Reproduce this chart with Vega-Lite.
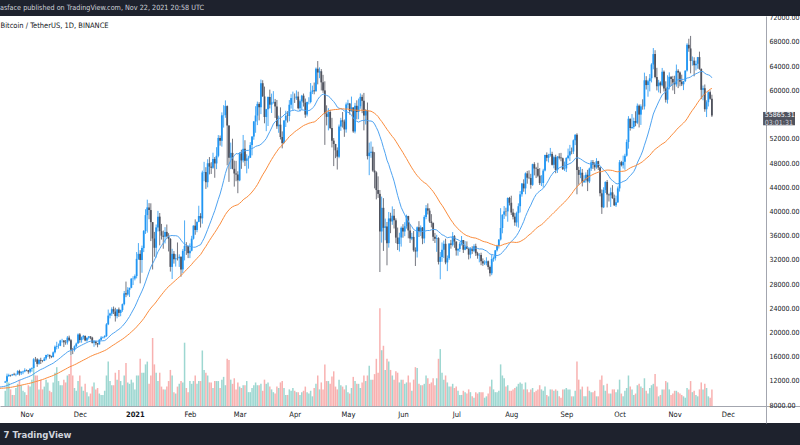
{
"$schema":"https://vega.github.io/schema/vega-lite/v6.json",
"width":800,"height":407,
"autosize":{"type":"none"},
"padding":{"left":0,"right":0,"top":16,"bottom":22},
"background":"#1e222d",
"config":{"view":{"fill":"#ffffff","stroke":null},"font":"Liberation Sans Narrow, DejaVu Sans Condensed, sans-serif","axis":{"labelOverlap":false,"labelFlush":false}},
"title":{"text":"asface published on TradingView.com, Nov 22, 2021 20:58 UTC","anchor":"start","orient":"top","offset":4,"dy":5,"fontSize":7.2,"fontWeight":"normal","color":"#d1d4dc","baseline":"middle"},
"data":{"values":[
{"t":"2020-09-01","c":11920},{"t":"2020-09-02","c":11390},{"t":"2020-09-03","c":10170},{"t":"2020-09-04","c":10470},{"t":"2020-09-05","c":10170},{"t":"2020-09-06","c":10250},{"t":"2020-09-07","c":10370},{"t":"2020-09-08","c":10130},{"t":"2020-09-09","c":10230},{"t":"2020-09-10","c":10340},
{"t":"2020-09-11","c":10390},{"t":"2020-09-12","c":10440},{"t":"2020-09-13","c":10330},{"t":"2020-09-14","c":10680},{"t":"2020-09-15","c":10790},{"t":"2020-09-16","c":10950},{"t":"2020-09-17","c":10940},{"t":"2020-09-18","c":10930},{"t":"2020-09-19","c":11080},{"t":"2020-09-20","c":10920},
{"t":"2020-09-21","c":10420},{"t":"2020-09-22","c":10530},{"t":"2020-09-23","c":10240},{"t":"2020-09-24","c":10740},{"t":"2020-09-25","c":10690},{"t":"2020-09-26","c":10730},{"t":"2020-09-27","c":10770},{"t":"2020-09-28","c":10700},{"t":"2020-09-29","c":10840},{"t":"2020-09-30","c":10780},
{"t":"2020-10-01","c":10620},{"t":"2020-10-02","c":10570},{"t":"2020-10-03","c":10550},{"t":"2020-10-04","c":10670},{"t":"2020-10-05","c":10790},{"t":"2020-10-06","c":10600},{"t":"2020-10-07","c":10670},{"t":"2020-10-08","c":10920},{"t":"2020-10-09","c":11050},{"t":"2020-10-10","c":11300},
{"t":"2020-10-11","c":11380},{"t":"2020-10-12","c":11540},{"t":"2020-10-13","c":11430},{"t":"2020-10-14","c":11430},{"t":"2020-10-15","c":11500},{"t":"2020-10-16","c":11320},{"t":"2020-10-17","c":11370},{"t":"2020-10-18","c":11500},{"t":"2020-10-19","c":11750},
{"t":"2020-10-20","o":11750,"h":12030,"l":11680,"c":11910,"v":55},
{"t":"2020-10-21","o":11910,"h":13220,"l":11900,"c":12800,"v":110},
{"t":"2020-10-22","o":12800,"h":13200,"l":12690,"c":12980,"v":85},
{"t":"2020-10-23","o":12980,"h":13030,"l":12730,"c":12930,"v":60},
{"t":"2020-10-24","o":12930,"h":13170,"l":12880,"c":13110,"v":40},
{"t":"2020-10-25","o":13110,"h":13350,"l":12920,"c":13030,"v":40},
{"t":"2020-10-26","o":13030,"h":13240,"l":12780,"c":13070,"v":65},
{"t":"2020-10-27","o":13070,"h":13790,"l":13050,"c":13640,"v":80},
{"t":"2020-10-28","o":13640,"h":13860,"l":12900,"c":13280,"v":95},
{"t":"2020-10-29","o":13280,"h":13640,"l":12990,"c":13460,"v":75},
{"t":"2020-10-30","o":13460,"h":13700,"l":13120,"c":13560,"v":55},
{"t":"2020-10-31","o":13560,"h":14100,"l":13430,"c":13800,"v":50},
{"t":"2020-11-01","o":13800,"h":13900,"l":13620,"c":13760,"v":40},
{"t":"2020-11-02","o":13760,"h":13820,"l":13200,"c":13550,"v":75},
{"t":"2020-11-03","o":13550,"h":14070,"l":13290,"c":14030,"v":70},
{"t":"2020-11-04","o":14030,"h":14250,"l":13530,"c":14150,"v":95},
{"t":"2020-11-05","o":14150,"h":15770,"l":14100,"c":15590,"v":150},
{"t":"2020-11-06","o":15590,"h":15970,"l":15170,"c":15580,"v":110},
{"t":"2020-11-07","o":15580,"h":15770,"l":14340,"c":14830,"v":110},
{"t":"2020-11-08","o":14830,"h":15650,"l":14700,"c":15480,"v":60},
{"t":"2020-11-09","o":15480,"h":15840,"l":14810,"c":15330,"v":95},
{"t":"2020-11-10","o":15330,"h":15460,"l":15090,"c":15300,"v":60},
{"t":"2020-11-11","o":15300,"h":15960,"l":15280,"c":15700,"v":70},
{"t":"2020-11-12","o":15700,"h":16340,"l":15440,"c":16280,"v":95},
{"t":"2020-11-13","o":16280,"h":16480,"l":15950,"c":16320,"v":85},
{"t":"2020-11-14","o":16320,"h":16330,"l":15680,"c":16070,"v":55},
{"t":"2020-11-15","o":16070,"h":16180,"l":15780,"c":15960,"v":50},
{"t":"2020-11-16","o":15960,"h":16880,"l":15870,"c":16730,"v":85},
{"t":"2020-11-17","o":16730,"h":17860,"l":16560,"c":17660,"v":120},
{"t":"2020-11-18","o":17660,"h":18480,"l":17220,"c":17780,"v":140},
{"t":"2020-11-19","o":17780,"h":18190,"l":17340,"c":17820,"v":90},
{"t":"2020-11-20","o":17820,"h":18800,"l":17750,"c":18680,"v":75},
{"t":"2020-11-21","o":18680,"h":18970,"l":18360,"c":18700,"v":75},
{"t":"2020-11-22","o":18700,"h":18750,"l":17610,"c":18420,"v":95},
{"t":"2020-11-23","o":18420,"h":18770,"l":18000,"c":18370,"v":85},
{"t":"2020-11-24","o":18370,"h":19420,"l":18020,"c":19160,"v":110},
{"t":"2020-11-25","o":19160,"h":19490,"l":18560,"c":18720,"v":115},
{"t":"2020-11-26","o":18720,"h":18920,"l":16200,"c":17150,"v":180},
{"t":"2020-11-27","o":17150,"h":17460,"l":16440,"c":17140,"v":110},
{"t":"2020-11-28","o":17140,"h":17880,"l":16880,"c":17720,"v":65},
{"t":"2020-11-29","o":17720,"h":18350,"l":17520,"c":18180,"v":55},
{"t":"2020-11-30","o":18180,"h":19860,"l":18180,"c":19700,"v":90},
{"t":"2020-12-01","o":19700,"h":19920,"l":18320,"c":18760,"v":110},
{"t":"2020-12-02","o":18760,"h":19340,"l":18330,"c":19220,"v":70},
{"t":"2020-12-03","o":19220,"h":19600,"l":18870,"c":19450,"v":55},
{"t":"2020-12-04","o":19450,"h":19510,"l":18570,"c":18700,"v":80},
{"t":"2020-12-05","o":18700,"h":19180,"l":18500,"c":19150,"v":50},
{"t":"2020-12-06","o":19150,"h":19420,"l":18860,"c":19360,"v":35},
{"t":"2020-12-07","o":19360,"h":19390,"l":18900,"c":19170,"v":45},
{"t":"2020-12-08","o":19170,"h":19300,"l":18200,"c":18320,"v":70},
{"t":"2020-12-09","o":18320,"h":18640,"l":17650,"c":18550,"v":85},
{"t":"2020-12-10","o":18550,"h":18560,"l":17910,"c":18250,"v":60},
{"t":"2020-12-11","o":18250,"h":18290,"l":17570,"c":18040,"v":65},
{"t":"2020-12-12","o":18040,"h":18950,"l":18020,"c":18800,"v":45},
{"t":"2020-12-13","o":18800,"h":19410,"l":18730,"c":19170,"v":40},
{"t":"2020-12-14","o":19170,"h":19350,"l":19000,"c":19270,"v":40},
{"t":"2020-12-15","o":19270,"h":19570,"l":19050,"c":19430,"v":55},
{"t":"2020-12-16","o":19430,"h":21560,"l":19280,"c":21360,"v":110},
{"t":"2020-12-17","o":21360,"h":23800,"l":21230,"c":22800,"v":160},
{"t":"2020-12-18","o":22800,"h":23280,"l":22350,"c":23130,"v":90},
{"t":"2020-12-19","o":23130,"h":24170,"l":22750,"c":23860,"v":75},
{"t":"2020-12-20","o":23860,"h":24300,"l":23060,"c":23470,"v":75},
{"t":"2020-12-21","o":23470,"h":24100,"l":21820,"c":22720,"v":120},
{"t":"2020-12-22","o":22720,"h":23840,"l":22350,"c":23820,"v":95},
{"t":"2020-12-23","o":23820,"h":24140,"l":22600,"c":23250,"v":130},
{"t":"2020-12-24","o":23250,"h":23790,"l":22700,"c":23720,"v":90},
{"t":"2020-12-25","o":23720,"h":24790,"l":23430,"c":24690,"v":75},
{"t":"2020-12-26","o":24690,"h":26870,"l":24500,"c":26490,"v":110},
{"t":"2020-12-27","o":26490,"h":28420,"l":25850,"c":26280,"v":155},
{"t":"2020-12-28","o":26280,"h":27500,"l":26100,"c":27080,"v":85},
{"t":"2020-12-29","o":27080,"h":27410,"l":25880,"c":27390,"v":80},
{"t":"2020-12-30","o":27390,"h":28990,"l":27320,"c":28900,"v":95},
{"t":"2020-12-31","o":28900,"h":29300,"l":27850,"c":28920,"v":85},
{"t":"2021-01-01","o":28920,"h":29600,"l":28620,"c":29330,"v":60},
{"t":"2021-01-02","o":29330,"h":33300,"l":28950,"c":32180,"v":110},
{"t":"2021-01-03","o":32180,"h":34780,"l":32000,"c":33000,"v":110},
{"t":"2021-01-04","o":33000,"h":33600,"l":28130,"c":31990,"v":170},
{"t":"2021-01-05","o":31990,"h":34360,"l":29880,"c":33950,"v":120},
{"t":"2021-01-06","o":33950,"h":36940,"l":33290,"c":36770,"v":120},
{"t":"2021-01-07","o":36770,"h":40370,"l":36300,"c":39400,"v":150},
{"t":"2021-01-08","o":39400,"h":41950,"l":36500,"c":40670,"v":160},
{"t":"2021-01-09","o":40670,"h":41380,"l":38720,"c":40240,"v":80},
{"t":"2021-01-10","o":40240,"h":41350,"l":35110,"c":38240,"v":110},
{"t":"2021-01-11","o":38240,"h":38260,"l":30420,"c":35540,"v":245},
{"t":"2021-01-12","o":35540,"h":36630,"l":32530,"c":34010,"v":150},
{"t":"2021-01-13","o":34010,"h":37850,"l":32380,"c":37370,"v":120},
{"t":"2021-01-14","o":37370,"h":40100,"l":36700,"c":39150,"v":90},
{"t":"2021-01-15","o":39150,"h":39750,"l":34410,"c":36740,"v":120},
{"t":"2021-01-16","o":36740,"h":37950,"l":35360,"c":36010,"v":70},
{"t":"2021-01-17","o":36010,"h":36850,"l":33850,"c":35830,"v":60},
{"t":"2021-01-18","o":35830,"h":37410,"l":34720,"c":36630,"v":60},
{"t":"2021-01-19","o":36630,"h":37850,"l":35700,"c":35890,"v":70},
{"t":"2021-01-20","o":35890,"h":36420,"l":33400,"c":35470,"v":90},
{"t":"2021-01-21","o":35470,"h":35600,"l":30070,"c":30850,"v":130},
{"t":"2021-01-22","o":30850,"h":33830,"l":28850,"c":33000,"v":110},
{"t":"2021-01-23","o":33000,"h":33460,"l":31390,"c":32100,"v":50},
{"t":"2021-01-24","o":32100,"h":32950,"l":30900,"c":32280,"v":45},
{"t":"2021-01-25","o":32280,"h":34880,"l":31910,"c":32270,"v":70},
{"t":"2021-01-26","o":32270,"h":32920,"l":30840,"c":32520,"v":80},
{"t":"2021-01-27","o":32520,"h":32560,"l":29240,"c":30430,"v":90},
{"t":"2021-01-28","o":30430,"h":33780,"l":29840,"c":33470,"v":85},
{"t":"2021-01-29","o":33470,"h":38530,"l":31920,"c":34320,"v":228},
{"t":"2021-01-30","o":34320,"h":34930,"l":32830,"c":34280,"v":65},
{"t":"2021-01-31","o":34280,"h":34330,"l":32300,"c":33110,"v":50},
{"t":"2021-02-01","o":33110,"h":34720,"l":32300,"c":33520,"v":90},
{"t":"2021-02-02","o":33520,"h":35980,"l":33420,"c":35510,"v":80},
{"t":"2021-02-03","o":35510,"h":37700,"l":35360,"c":37660,"v":90},
{"t":"2021-02-04","o":37660,"h":38700,"l":36160,"c":36950,"v":110},
{"t":"2021-02-05","o":36950,"h":38310,"l":36570,"c":38290,"v":80},
{"t":"2021-02-06","o":38290,"h":40950,"l":38220,"c":39260,"v":90},
{"t":"2021-02-07","o":39260,"h":39720,"l":37350,"c":38870,"v":90},
{"t":"2021-02-08","o":38870,"h":46750,"l":37990,"c":46450,"v":200},
{"t":"2021-02-09","o":46450,"h":48200,"l":45000,"c":46510,"v":130},
{"t":"2021-02-10","o":46510,"h":47310,"l":43730,"c":44840,"v":120},
{"t":"2021-02-11","o":44840,"h":48630,"l":43980,"c":47970,"v":110},
{"t":"2021-02-12","o":47970,"h":48990,"l":46130,"c":47410,"v":85},
{"t":"2021-02-13","o":47410,"h":48150,"l":46200,"c":47230,"v":85},
{"t":"2021-02-14","o":47230,"h":49710,"l":47050,"c":48690,"v":65},
{"t":"2021-02-15","o":48690,"h":49000,"l":45570,"c":47940,"v":90},
{"t":"2021-02-16","o":47940,"h":50620,"l":47000,"c":49200,"v":90},
{"t":"2021-02-17","o":49200,"h":52620,"l":48950,"c":52150,"v":90},
{"t":"2021-02-18","o":52150,"h":52550,"l":50880,"c":51680,"v":65},
{"t":"2021-02-19","o":51680,"h":56370,"l":50710,"c":55890,"v":95},
{"t":"2021-02-20","o":55890,"h":57560,"l":53860,"c":55920,"v":105},
{"t":"2021-02-21","o":55920,"h":58350,"l":55480,"c":57410,"v":75},
{"t":"2021-02-22","o":57410,"h":57530,"l":47620,"c":54200,"v":170},
{"t":"2021-02-23","o":54200,"h":54210,"l":44890,"c":48890,"v":166},
{"t":"2021-02-24","o":48890,"h":51380,"l":47000,"c":49680,"v":95},
{"t":"2021-02-25","o":49680,"h":52020,"l":46970,"c":47050,"v":80},
{"t":"2021-02-26","o":47050,"h":48400,"l":44110,"c":46280,"v":100},
{"t":"2021-02-27","o":46280,"h":48360,"l":45000,"c":46110,"v":60},
{"t":"2021-02-28","o":46110,"h":46640,"l":43020,"c":45140,"v":85},
{"t":"2021-03-01","o":45140,"h":49790,"l":45000,"c":49590,"v":70},
{"t":"2021-03-02","o":49590,"h":50200,"l":47050,"c":48440,"v":65},
{"t":"2021-03-03","o":48440,"h":52640,"l":48100,"c":50350,"v":75},
{"t":"2021-03-04","o":50350,"h":51770,"l":47500,"c":48370,"v":75},
{"t":"2021-03-05","o":48370,"h":49450,"l":46300,"c":48760,"v":90},
{"t":"2021-03-06","o":48760,"h":49200,"l":47070,"c":48880,"v":50},
{"t":"2021-03-07","o":48880,"h":51450,"l":48850,"c":50970,"v":50},
{"t":"2021-03-08","o":50970,"h":52420,"l":49270,"c":52380,"v":65},
{"t":"2021-03-09","o":52380,"h":54930,"l":51850,"c":54880,"v":75},
{"t":"2021-03-10","o":54880,"h":57390,"l":53000,"c":55850,"v":85},
{"t":"2021-03-11","o":55850,"h":58150,"l":54270,"c":57770,"v":75},
{"t":"2021-03-12","o":57770,"h":58060,"l":55050,"c":57220,"v":75},
{"t":"2021-03-13","o":57220,"h":61790,"l":56080,"c":61190,"v":80},
{"t":"2021-03-14","o":61190,"h":61680,"l":58960,"c":59000,"v":55},
{"t":"2021-03-15","o":59000,"h":60630,"l":54570,"c":55600,"v":95},
{"t":"2021-03-16","o":55600,"h":56950,"l":53270,"c":56900,"v":80},
{"t":"2021-03-17","o":56900,"h":59000,"l":54120,"c":58910,"v":85},
{"t":"2021-03-18","o":58910,"h":60130,"l":57020,"c":57650,"v":70},
{"t":"2021-03-19","o":57650,"h":59470,"l":56270,"c":58030,"v":60},
{"t":"2021-03-20","o":58030,"h":59880,"l":57820,"c":58100,"v":50},
{"t":"2021-03-21","o":58100,"h":58590,"l":55450,"c":57350,"v":45},
{"t":"2021-03-22","o":57350,"h":58420,"l":53650,"c":54080,"v":70},
{"t":"2021-03-23","o":54080,"h":55830,"l":53000,"c":54340,"v":65},
{"t":"2021-03-24","o":54340,"h":57200,"l":51900,"c":52300,"v":85},
{"t":"2021-03-25","o":52300,"h":53230,"l":50430,"c":51300,"v":90},
{"t":"2021-03-26","o":51300,"h":55100,"l":51230,"c":55030,"v":65},
{"t":"2021-03-27","o":55030,"h":56640,"l":53960,"c":55820,"v":40},
{"t":"2021-03-28","o":55820,"h":56560,"l":54690,"c":55780,"v":40},
{"t":"2021-03-29","o":55780,"h":58400,"l":54900,"c":57630,"v":60},
{"t":"2021-03-30","o":57630,"h":59370,"l":57000,"c":58730,"v":55},
{"t":"2021-03-31","o":58730,"h":59800,"l":56770,"c":58740,"v":65},
{"t":"2021-04-01","o":58740,"h":59490,"l":57930,"c":58720,"v":55},
{"t":"2021-04-02","o":58720,"h":60000,"l":58430,"c":58990,"v":50},
{"t":"2021-04-03","o":58990,"h":59790,"l":56880,"c":57060,"v":50},
{"t":"2021-04-04","o":57060,"h":58500,"l":56500,"c":58200,"v":40},
{"t":"2021-04-05","o":58200,"h":59260,"l":56790,"c":59130,"v":50},
{"t":"2021-04-06","o":59130,"h":59480,"l":57330,"c":57990,"v":55},
{"t":"2021-04-07","o":57990,"h":58650,"l":55470,"c":56000,"v":70},
{"t":"2021-04-08","o":56000,"h":58150,"l":55700,"c":58090,"v":50},
{"t":"2021-04-09","o":58090,"h":58870,"l":57700,"c":58090,"v":45},
{"t":"2021-04-10","o":58090,"h":61220,"l":57870,"c":59770,"v":55},
{"t":"2021-04-11","o":59770,"h":60790,"l":59400,"c":60000,"v":35},
{"t":"2021-04-12","o":60000,"h":61300,"l":59360,"c":59860,"v":65},
{"t":"2021-04-13","o":59860,"h":63780,"l":59800,"c":63580,"v":80},
{"t":"2021-04-14","o":63580,"h":64850,"l":61000,"c":62960,"v":110},
{"t":"2021-04-15","o":62960,"h":63800,"l":62020,"c":63160,"v":60},
{"t":"2021-04-16","o":63160,"h":63520,"l":60000,"c":61330,"v":85},
{"t":"2021-04-17","o":61330,"h":62570,"l":59600,"c":60000,"v":60},
{"t":"2021-04-18","o":60000,"h":61500,"l":51000,"c":56150,"v":150},
{"t":"2021-04-19","o":56150,"h":57530,"l":54220,"c":55630,"v":90},
{"t":"2021-04-20","o":55630,"h":57060,"l":53400,"c":56430,"v":90},
{"t":"2021-04-21","o":56430,"h":56760,"l":53610,"c":53790,"v":80},
{"t":"2021-04-22","o":53790,"h":55470,"l":50580,"c":51700,"v":106},
{"t":"2021-04-23","o":51700,"h":52130,"l":47500,"c":51150,"v":125},
{"t":"2021-04-24","o":51150,"h":51170,"l":48810,"c":50110,"v":70},
{"t":"2021-04-25","o":50110,"h":50580,"l":46930,"c":49060,"v":60},
{"t":"2021-04-26","o":49060,"h":54360,"l":48800,"c":54030,"v":95},
{"t":"2021-04-27","o":54030,"h":55470,"l":53320,"c":55050,"v":75},
{"t":"2021-04-28","o":55050,"h":56430,"l":53860,"c":54860,"v":70},
{"t":"2021-04-29","o":54860,"h":55190,"l":52330,"c":53560,"v":60},
{"t":"2021-04-30","o":53560,"h":58000,"l":53020,"c":57690,"v":75},
{"t":"2021-05-01","o":57690,"h":58450,"l":57050,"c":57830,"v":50},
{"t":"2021-05-02","o":57830,"h":57930,"l":56000,"c":56580,"v":45},
{"t":"2021-05-03","o":56580,"h":58980,"l":56480,"c":57190,"v":65},
{"t":"2021-05-04","o":57190,"h":57200,"l":53000,"c":53230,"v":105},
{"t":"2021-05-05","o":53230,"h":57940,"l":52900,"c":57460,"v":90},
{"t":"2021-05-06","o":57460,"h":58360,"l":55200,"c":56430,"v":80},
{"t":"2021-05-07","o":56430,"h":58650,"l":55240,"c":57380,"v":80},
{"t":"2021-05-08","o":57380,"h":59500,"l":56970,"c":58930,"v":65},
{"t":"2021-05-09","o":58930,"h":59300,"l":56240,"c":58280,"v":85},
{"t":"2021-05-10","o":58280,"h":59590,"l":53400,"c":55860,"v":110},
{"t":"2021-05-11","o":55860,"h":56900,"l":54370,"c":56700,"v":90},
{"t":"2021-05-12","o":56700,"h":58000,"l":48600,"c":49150,"v":110},
{"t":"2021-05-13","o":49150,"h":51370,"l":46000,"c":49720,"v":145},
{"t":"2021-05-14","o":49720,"h":51560,"l":48870,"c":49880,"v":95},
{"t":"2021-05-15","o":49880,"h":50700,"l":46560,"c":46760,"v":95},
{"t":"2021-05-16","o":46760,"h":49800,"l":43820,"c":46450,"v":115},
{"t":"2021-05-17","o":46450,"h":46640,"l":42000,"c":43540,"v":170},
{"t":"2021-05-18","o":43540,"h":45800,"l":42250,"c":42910,"v":120},
{"t":"2021-05-19","o":42910,"h":43550,"l":30000,"c":36700,"v":352},
{"t":"2021-05-20","o":36700,"h":42460,"l":34850,"c":40600,"v":201},
{"t":"2021-05-21","o":40600,"h":42200,"l":33490,"c":37300,"v":217},
{"t":"2021-05-22","o":37300,"h":38830,"l":35250,"c":37540,"v":130},
{"t":"2021-05-23","o":37540,"h":38270,"l":31110,"c":34770,"v":170},
{"t":"2021-05-24","o":34770,"h":39920,"l":34030,"c":38850,"v":160},
{"t":"2021-05-25","o":38850,"h":39790,"l":36420,"c":38360,"v":130},
{"t":"2021-05-26","o":38360,"h":40840,"l":37800,"c":39300,"v":110},
{"t":"2021-05-27","o":39300,"h":40410,"l":37190,"c":38540,"v":95},
{"t":"2021-05-28","o":38540,"h":38860,"l":34780,"c":35680,"v":125},
{"t":"2021-05-29","o":35680,"h":37340,"l":33630,"c":34630,"v":120},
{"t":"2021-05-30","o":34630,"h":36490,"l":33380,"c":35690,"v":85},
{"t":"2021-05-31","o":35690,"h":37530,"l":34200,"c":37300,"v":95},
{"t":"2021-06-01","o":37300,"h":37900,"l":35670,"c":36690,"v":95},
{"t":"2021-06-02","o":36690,"h":38230,"l":35920,"c":37570,"v":80},
{"t":"2021-06-03","o":37570,"h":39480,"l":37170,"c":39250,"v":85},
{"t":"2021-06-04","o":39250,"h":39290,"l":35570,"c":36860,"v":110},
{"t":"2021-06-05","o":36860,"h":37920,"l":34800,"c":35520,"v":85},
{"t":"2021-06-06","o":35520,"h":36480,"l":35260,"c":35800,"v":55},
{"t":"2021-06-07","o":35800,"h":36790,"l":33350,"c":33580,"v":95},
{"t":"2021-06-08","o":33580,"h":34070,"l":31000,"c":33400,"v":140},
{"t":"2021-06-09","o":33400,"h":37530,"l":32400,"c":37390,"v":137},
{"t":"2021-06-10","o":37390,"h":38400,"l":35780,"c":36690,"v":80},
{"t":"2021-06-11","o":36690,"h":37690,"l":35940,"c":37340,"v":75},
{"t":"2021-06-12","o":37340,"h":37440,"l":34600,"c":35550,"v":75},
{"t":"2021-06-13","o":35550,"h":39380,"l":34760,"c":39100,"v":80},
{"t":"2021-06-14","o":39100,"h":41060,"l":38730,"c":40520,"v":110},
{"t":"2021-06-15","o":40520,"h":41330,"l":39510,"c":40140,"v":100},
{"t":"2021-06-16","o":40140,"h":40530,"l":38120,"c":38350,"v":80},
{"t":"2021-06-17","o":38350,"h":39560,"l":37370,"c":38090,"v":85},
{"t":"2021-06-18","o":38090,"h":38200,"l":35130,"c":35820,"v":100},
{"t":"2021-06-19","o":35820,"h":36460,"l":34800,"c":35480,"v":75},
{"t":"2021-06-20","o":35480,"h":36150,"l":33340,"c":35600,"v":100},
{"t":"2021-06-21","o":35600,"h":35750,"l":31250,"c":31680,"v":170},
{"t":"2021-06-22","o":31680,"h":33300,"l":28800,"c":32500,"v":205},
{"t":"2021-06-23","o":32500,"h":34880,"l":31700,"c":33680,"v":120},
{"t":"2021-06-24","o":33680,"h":35200,"l":32300,"c":34660,"v":95},
{"t":"2021-06-25","o":34660,"h":35500,"l":31280,"c":31590,"v":110},
{"t":"2021-06-26","o":31590,"h":32730,"l":30150,"c":32280,"v":85},
{"t":"2021-06-27","o":32280,"h":34750,"l":32000,"c":34700,"v":70},
{"t":"2021-06-28","o":34700,"h":35300,"l":33860,"c":34490,"v":70},
{"t":"2021-06-29","o":34490,"h":36600,"l":34230,"c":35910,"v":80},
{"t":"2021-06-30","o":35910,"h":36100,"l":34000,"c":35040,"v":65},
{"t":"2021-07-01","o":35040,"h":35050,"l":32710,"c":33570,"v":70},
{"t":"2021-07-02","o":33570,"h":33940,"l":32700,"c":33800,"v":55},
{"t":"2021-07-03","o":33800,"h":34950,"l":33330,"c":34670,"v":40},
{"t":"2021-07-04","o":34670,"h":35950,"l":34380,"c":35290,"v":40},
{"t":"2021-07-05","o":35290,"h":35290,"l":33150,"c":33690,"v":55},
{"t":"2021-07-06","o":33690,"h":35110,"l":33600,"c":34220,"v":50},
{"t":"2021-07-07","o":34220,"h":35060,"l":33770,"c":33860,"v":45},
{"t":"2021-07-08","o":33860,"h":33910,"l":32080,"c":32880,"v":60},
{"t":"2021-07-09","o":32880,"h":34100,"l":32260,"c":33810,"v":50},
{"t":"2021-07-10","o":33810,"h":34260,"l":33000,"c":33510,"v":35},
{"t":"2021-07-11","o":33510,"h":34590,"l":33300,"c":34260,"v":30},
{"t":"2021-07-12","o":34260,"h":34680,"l":32660,"c":33090,"v":50},
{"t":"2021-07-13","o":33090,"h":33340,"l":32200,"c":32730,"v":45},
{"t":"2021-07-14","o":32730,"h":33110,"l":31600,"c":32820,"v":50},
{"t":"2021-07-15","o":32820,"h":33190,"l":31130,"c":31780,"v":50},
{"t":"2021-07-16","o":31780,"h":32250,"l":31020,"c":31420,"v":50},
{"t":"2021-07-17","o":31420,"h":31950,"l":31160,"c":31520,"v":30},
{"t":"2021-07-18","o":31520,"h":32440,"l":31100,"c":31780,"v":35},
{"t":"2021-07-19","o":31780,"h":31900,"l":30400,"c":30840,"v":45},
{"t":"2021-07-20","o":30840,"h":31060,"l":29280,"c":29790,"v":70},
{"t":"2021-07-21","o":29790,"h":32860,"l":29480,"c":32140,"v":95},
{"t":"2021-07-22","o":32140,"h":32580,"l":31710,"c":32290,"v":60},
{"t":"2021-07-23","o":32290,"h":33650,"l":31900,"c":33580,"v":50},
{"t":"2021-07-24","o":33580,"h":34500,"l":33400,"c":34290,"v":50},
{"t":"2021-07-25","o":34290,"h":35400,"l":33880,"c":35380,"v":55},
{"t":"2021-07-26","o":35380,"h":40550,"l":35210,"c":37270,"v":150},
{"t":"2021-07-27","o":37270,"h":39540,"l":36400,"c":39460,"v":110},
{"t":"2021-07-28","o":39460,"h":40900,"l":38770,"c":40020,"v":100},
{"t":"2021-07-29","o":40020,"h":40620,"l":39200,"c":40010,"v":70},
{"t":"2021-07-30","o":40010,"h":42320,"l":38310,"c":42240,"v":75},
{"t":"2021-07-31","o":42240,"h":42410,"l":41000,"c":41460,"v":55},
{"t":"2021-08-01","o":41460,"h":42600,"l":39420,"c":39850,"v":55},
{"t":"2021-08-02","o":39850,"h":40450,"l":38690,"c":39150,"v":60},
{"t":"2021-08-03","o":39150,"h":39780,"l":37640,"c":38190,"v":65},
{"t":"2021-08-04","o":38190,"h":39970,"l":37510,"c":39720,"v":70},
{"t":"2021-08-05","o":39720,"h":41350,"l":37330,"c":40870,"v":80},
{"t":"2021-08-06","o":40870,"h":43390,"l":39850,"c":42840,"v":85},
{"t":"2021-08-07","o":42840,"h":44700,"l":42450,"c":44610,"v":80},
{"t":"2021-08-08","o":44610,"h":45310,"l":43260,"c":43820,"v":60},
{"t":"2021-08-09","o":43820,"h":46450,"l":42850,"c":46290,"v":85},
{"t":"2021-08-10","o":46290,"h":46700,"l":44590,"c":45580,"v":60},
{"t":"2021-08-11","o":45580,"h":46790,"l":45350,"c":45540,"v":50},
{"t":"2021-08-12","o":45540,"h":46220,"l":43770,"c":44400,"v":60},
{"t":"2021-08-13","o":44400,"h":47890,"l":44240,"c":47820,"v":65},
{"t":"2021-08-14","o":47820,"h":48140,"l":45970,"c":47100,"v":50},
{"t":"2021-08-15","o":47100,"h":47370,"l":45520,"c":47020,"v":55},
{"t":"2021-08-16","o":47020,"h":48050,"l":45660,"c":45920,"v":60},
{"t":"2021-08-17","o":45920,"h":47160,"l":44380,"c":44690,"v":75},
{"t":"2021-08-18","o":44690,"h":46000,"l":44200,"c":44710,"v":60},
{"t":"2021-08-19","o":44710,"h":47050,"l":43950,"c":46760,"v":55},
{"t":"2021-08-20","o":46760,"h":49380,"l":46630,"c":49340,"v":70},
{"t":"2021-08-21","o":49340,"h":49760,"l":48290,"c":48870,"v":40},
{"t":"2021-08-22","o":48870,"h":49520,"l":48100,"c":49280,"v":35},
{"t":"2021-08-23","o":49280,"h":50500,"l":49050,"c":49510,"v":60},
{"t":"2021-08-24","o":49510,"h":49870,"l":47600,"c":47710,"v":60},
{"t":"2021-08-25","o":47710,"h":49230,"l":47130,"c":48970,"v":55},
{"t":"2021-08-26","o":48970,"h":49370,"l":46320,"c":46840,"v":60},
{"t":"2021-08-27","o":46840,"h":49150,"l":46370,"c":49070,"v":55},
{"t":"2021-08-28","o":49070,"h":49630,"l":48600,"c":48900,"v":35},
{"t":"2021-08-29","o":48900,"h":49680,"l":48300,"c":48800,"v":30},
{"t":"2021-08-30","o":48800,"h":48900,"l":46860,"c":46990,"v":60},
{"t":"2021-08-31","o":46990,"h":48240,"l":46700,"c":47110,"v":60},
{"t":"2021-09-01","o":47110,"h":48950,"l":46520,"c":48850,"v":65},
{"t":"2021-09-02","o":48850,"h":50390,"l":48630,"c":49250,"v":60},
{"t":"2021-09-03","o":49250,"h":51000,"l":48350,"c":49940,"v":60},
{"t":"2021-09-04","o":49940,"h":50560,"l":49450,"c":49910,"v":35},
{"t":"2021-09-05","o":49910,"h":51900,"l":49500,"c":51760,"v":35},
{"t":"2021-09-06","o":51760,"h":52780,"l":50960,"c":52660,"v":55},
{"t":"2021-09-07","o":52660,"h":52920,"l":42840,"c":46860,"v":160},
{"t":"2021-09-08","o":46860,"h":47380,"l":44410,"c":46050,"v":95},
{"t":"2021-09-09","o":46050,"h":47350,"l":45500,"c":46400,"v":60},
{"t":"2021-09-10","o":46400,"h":47030,"l":44140,"c":44850,"v":70},
{"t":"2021-09-11","o":44850,"h":45980,"l":44740,"c":45150,"v":35},
{"t":"2021-09-12","o":45150,"h":46460,"l":44750,"c":46060,"v":35},
{"t":"2021-09-13","o":46060,"h":46880,"l":43370,"c":44960,"v":70},
{"t":"2021-09-14","o":44960,"h":47250,"l":44690,"c":47100,"v":55},
{"t":"2021-09-15","o":47100,"h":48490,"l":46690,"c":48120,"v":50},
{"t":"2021-09-16","o":48120,"h":48500,"l":47030,"c":47750,"v":50},
{"t":"2021-09-17","o":47750,"h":48140,"l":46750,"c":47300,"v":55},
{"t":"2021-09-18","o":47300,"h":48810,"l":47050,"c":48310,"v":35},
{"t":"2021-09-19","o":48310,"h":48370,"l":46860,"c":47260,"v":35},
{"t":"2021-09-20","o":47260,"h":47350,"l":42500,"c":43000,"v":95},
{"t":"2021-09-21","o":43000,"h":43640,"l":39600,"c":40690,"v":110},
{"t":"2021-09-22","o":40690,"h":44000,"l":40560,"c":43560,"v":75},
{"t":"2021-09-23","o":43560,"h":44980,"l":43060,"c":44880,"v":55},
{"t":"2021-09-24","o":44880,"h":45200,"l":40670,"c":42810,"v":80},
{"t":"2021-09-25","o":42810,"h":42960,"l":41650,"c":42670,"v":45},
{"t":"2021-09-26","o":42670,"h":43940,"l":40750,"c":43160,"v":45},
{"t":"2021-09-27","o":43160,"h":44350,"l":42100,"c":42200,"v":60},
{"t":"2021-09-28","o":42200,"h":42790,"l":40900,"c":41030,"v":60},
{"t":"2021-09-29","o":41030,"h":42620,"l":40750,"c":41520,"v":50},
{"t":"2021-09-30","o":41520,"h":44130,"l":41410,"c":43820,"v":60},
{"t":"2021-10-01","o":43820,"h":48500,"l":43290,"c":48140,"v":95},
{"t":"2021-10-02","o":48140,"h":48360,"l":47440,"c":47630,"v":45},
{"t":"2021-10-03","o":47630,"h":49230,"l":47100,"c":48200,"v":35},
{"t":"2021-10-04","o":48200,"h":49530,"l":46890,"c":49220,"v":55},
{"t":"2021-10-05","o":49220,"h":51890,"l":49060,"c":51470,"v":65},
{"t":"2021-10-06","o":51470,"h":55750,"l":50380,"c":55320,"v":110},
{"t":"2021-10-07","o":55320,"h":55340,"l":53360,"c":53790,"v":70},
{"t":"2021-10-08","o":53790,"h":56100,"l":53620,"c":53950,"v":60},
{"t":"2021-10-09","o":53950,"h":55490,"l":53660,"c":54950,"v":40},
{"t":"2021-10-10","o":54950,"h":56560,"l":54080,"c":54660,"v":45},
{"t":"2021-10-11","o":54660,"h":57840,"l":54420,"c":57470,"v":75},
{"t":"2021-10-12","o":57470,"h":57680,"l":53880,"c":56000,"v":80},
{"t":"2021-10-13","o":56000,"h":57700,"l":54300,"c":57370,"v":70},
{"t":"2021-10-14","o":57370,"h":58530,"l":56820,"c":57350,"v":65},
{"t":"2021-10-15","o":57350,"h":62930,"l":56850,"c":61670,"v":100},
{"t":"2021-10-16","o":61670,"h":62350,"l":60150,"c":60880,"v":55},
{"t":"2021-10-17","o":60880,"h":61750,"l":58960,"c":61530,"v":45},
{"t":"2021-10-18","o":61530,"h":62700,"l":59840,"c":62010,"v":65},
{"t":"2021-10-19","o":62010,"h":64490,"l":61320,"c":64280,"v":75},
{"t":"2021-10-20","o":64280,"h":67000,"l":63480,"c":66000,"v":80},
{"t":"2021-10-21","o":66000,"h":66640,"l":62000,"c":62210,"v":115},
{"t":"2021-10-22","o":62210,"h":63730,"l":60000,"c":60690,"v":70},
{"t":"2021-10-23","o":60690,"h":61750,"l":59670,"c":61290,"v":35},
{"t":"2021-10-24","o":61290,"h":61490,"l":59520,"c":60850,"v":40},
{"t":"2021-10-25","o":60850,"h":63710,"l":60660,"c":63080,"v":60},
{"t":"2021-10-26","o":63080,"h":63290,"l":59820,"c":60330,"v":60},
{"t":"2021-10-27","o":60330,"h":61500,"l":58000,"c":58460,"v":90},
{"t":"2021-10-28","o":58460,"h":62500,"l":57820,"c":60590,"v":85},
{"t":"2021-10-29","o":60590,"h":62980,"l":60170,"c":62250,"v":60},
{"t":"2021-10-30","o":62250,"h":62330,"l":60720,"c":61880,"v":40},
{"t":"2021-10-31","o":61880,"h":62400,"l":60000,"c":61320,"v":45},
{"t":"2021-11-01","o":61320,"h":62420,"l":59400,"c":61000,"v":55},
{"t":"2021-11-02","o":61000,"h":64270,"l":60620,"c":63230,"v":55},
{"t":"2021-11-03","o":63230,"h":63500,"l":60380,"c":62940,"v":50},
{"t":"2021-11-04","o":62940,"h":63130,"l":60680,"c":61440,"v":45},
{"t":"2021-11-05","o":61440,"h":62600,"l":60720,"c":61010,"v":40},
{"t":"2021-11-06","o":61010,"h":61570,"l":60050,"c":61530,"v":35},
{"t":"2021-11-07","o":61530,"h":63290,"l":61380,"c":63270,"v":30},
{"t":"2021-11-08","o":63270,"h":67790,"l":63110,"c":67530,"v":65},
{"t":"2021-11-09","o":67530,"h":68530,"l":66380,"c":66930,"v":60},
{"t":"2021-11-10","o":66930,"h":69000,"l":62820,"c":64860,"v":90},
{"t":"2021-11-11","o":64860,"h":65600,"l":64100,"c":64910,"v":50},
{"t":"2021-11-12","o":64910,"h":65470,"l":62330,"c":64160,"v":55},
{"t":"2021-11-13","o":64160,"h":64920,"l":63300,"c":64400,"v":40},
{"t":"2021-11-14","o":64400,"h":65530,"l":63580,"c":65500,"v":35},
{"t":"2021-11-15","o":65500,"h":66400,"l":63400,"c":63560,"v":60},
{"t":"2021-11-16","o":63560,"h":63620,"l":58570,"c":60090,"v":85},
{"t":"2021-11-17","o":60090,"h":60800,"l":58370,"c":60360,"v":60},
{"t":"2021-11-18","o":60360,"h":60980,"l":56470,"c":56890,"v":80},
{"t":"2021-11-19","o":56890,"h":58370,"l":55600,"c":58050,"v":65},
{"t":"2021-11-20","o":58050,"h":59850,"l":57350,"c":59710,"v":35},
{"t":"2021-11-21","o":59710,"h":60000,"l":58460,"c":58620,"v":30},
{"t":"2021-11-22","o":58620,"h":59290,"l":55610,"c":55865.31,"v":60}
]},
"resolve":{"scale":{"y":"independent"},"axis":{"y":"independent"}},
"layer":[
{"mark":{"type":"bar","size":1.5,"clip":true,"opacity":0.45},
 "encoding":{
  "x":{"field":"t","type":"temporal","scale":{"type":"utc","domain":[{"year":2020,"month":10,"date":19,"hours":20,"minutes":38,"utc":true},{"year":2022,"month":1,"date":7,"hours":19,"minutes":12,"utc":true}]},
   "axis":{"orient":"bottom","offset":-17,"tickCount":30,"values":[{"year":2020,"month":11,"date":1,"utc":true},{"year":2020,"month":12,"date":1,"utc":true},{"year":2021,"month":1,"date":1,"utc":true},{"year":2021,"month":2,"date":1,"utc":true},{"year":2021,"month":3,"date":1,"utc":true},{"year":2021,"month":4,"date":1,"utc":true},{"year":2021,"month":5,"date":1,"utc":true},{"year":2021,"month":6,"date":1,"utc":true},{"year":2021,"month":7,"date":1,"utc":true},{"year":2021,"month":8,"date":1,"utc":true},{"year":2021,"month":9,"date":1,"utc":true},{"year":2021,"month":10,"date":1,"utc":true},{"year":2021,"month":11,"date":1,"utc":true},{"year":2021,"month":12,"date":1,"utc":true}],
    "labelExpr":"utcmonth(datum.value) == 0 ? utcFormat(datum.value, '%Y') : utcFormat(datum.value, '%b')",
    "labelFontWeight":{"condition":{"test":"utcmonth(datum.value) == 0","value":"bold"},"value":"normal"},
    "ticks":false,"grid":false,"domainColor":"#a3a6af","domainWidth":1,"labelColor":"#131722","labelFontSize":7.5,"labelPadding":4,"labelBaseline":"top","labelFlush":false,"labelOverlap":false,
    "title":"7 TradingView","titleX":3,"titleY":28,"titleAlign":"left","titleBaseline":"middle","titleColor":"#d1d4dc","titleFontSize":9.5,"titleFontWeight":"bold"}},
  "y":{"field":"v","type":"quantitative","scale":{"domain":[-61,1404],"nice":false,"zero":false},"axis":null},
  "color":{"condition":{"test":"datum.c >= datum.o","value":"#26a69a"},"value":"#ef5350"}}},
{"layer":[
 {"mark":{"type":"rule","clip":true,"strokeWidth":1,"opacity":0.8},
  "encoding":{
   "x":{"field":"t","type":"temporal","scale":{"type":"utc","domain":[{"year":2020,"month":10,"date":19,"hours":20,"minutes":38,"utc":true},{"year":2022,"month":1,"date":7,"hours":19,"minutes":12,"utc":true}]}},
   "y":{"field":"l","type":"quantitative","scale":{"domain":[5062,72291],"nice":false,"zero":false},
    "axis":{"orient":"right","offset":-34,"tickCount":40,"values":[8000,12000,16000,20000,24000,28000,32000,36000,40000,44000,48000,52000,60000,64000,68000,72000],"format":".2f","ticks":false,"grid":false,"domainColor":"#a3a6af","labelColor":"#131722","labelFontSize":7,"labelPadding":3,"labelAlign":"left","labelBaseline":"middle","labelFlush":false,"labelOverlap":false,
     "title":"Bitcoin / TetherUS, 1D, BINANCE","titleAngle":0,"titleX":-766,"titleY":9,"titleAlign":"left","titleBaseline":"middle","titleColor":"#131722","titleFontSize":7.5,"titleFontWeight":"normal"}},
   "y2":{"field":"h"},
   "color":{"condition":{"test":"datum.c >= datum.o","value":"#2196f3"},"value":"#50535e"}}},
 {"mark":{"type":"bar","clip":true,"size":1.8},
  "encoding":{
   "x":{"field":"t","type":"temporal","scale":{"type":"utc","domain":[{"year":2020,"month":10,"date":19,"hours":20,"minutes":38,"utc":true},{"year":2022,"month":1,"date":7,"hours":19,"minutes":12,"utc":true}]}},
   "y":{"field":"o","type":"quantitative","scale":{"domain":[5062,72291],"nice":false,"zero":false}},
   "y2":{"field":"c"},
   "color":{"condition":{"test":"datum.c >= datum.o","value":"#2196f3"},"value":"#50535e"}}},
 {"transform":[{"window":[{"op":"mean","field":"c","as":"ma20"}],"frame":[-19,0],"sort":[{"field":"t"}]}],
  "mark":{"type":"line","clip":true,"strokeWidth":1,"color":"#4ea3f1"},
  "encoding":{
   "x":{"field":"t","type":"temporal","scale":{"type":"utc","domain":[{"year":2020,"month":10,"date":19,"hours":20,"minutes":38,"utc":true},{"year":2022,"month":1,"date":7,"hours":19,"minutes":12,"utc":true}]}},
   "y":{"field":"ma20","type":"quantitative","scale":{"domain":[5062,72291],"nice":false,"zero":false}}}},
 {"transform":[{"window":[{"op":"mean","field":"c","as":"ma50"}],"frame":[-49,0],"sort":[{"field":"t"}]}],
  "mark":{"type":"line","clip":true,"strokeWidth":1,"color":"#fb8c3c"},
  "encoding":{
   "x":{"field":"t","type":"temporal","scale":{"type":"utc","domain":[{"year":2020,"month":10,"date":19,"hours":20,"minutes":38,"utc":true},{"year":2022,"month":1,"date":7,"hours":19,"minutes":12,"utc":true}]}},
   "y":{"field":"ma50","type":"quantitative","scale":{"domain":[5062,72291],"nice":false,"zero":false}}}},
 {"data":{"values":[{"p":55865.31,"lbl":"55865.31","cd":"03:01:31"}]},
  "mark":{"type":"rect","clip":true,"color":"#50535e"},
  "encoding":{
   "x":{"datum":{"year":2021,"month":12,"date":20,"hours":20,"utc":true},"type":"temporal","scale":{"type":"utc","domain":[{"year":2020,"month":10,"date":19,"hours":20,"minutes":38,"utc":true},{"year":2022,"month":1,"date":7,"hours":19,"minutes":12,"utc":true}]}},
   "x2":{"datum":{"year":2022,"month":1,"date":7,"hours":19,"minutes":12,"utc":true}},
   "y":{"datum":56440,"type":"quantitative","scale":{"domain":[5062,72291],"nice":false,"zero":false}},
   "y2":{"datum":54240}}},
 {"data":{"values":[{"p":55865.31,"lbl":"55865.31","cd":"03:01:31"}]},
  "mark":{"type":"text","align":"left","baseline":"middle","fontSize":7,"color":"#ffffff"},
  "encoding":{
   "x":{"datum":{"year":2021,"month":12,"date":21,"hours":18,"utc":true},"type":"temporal","scale":{"type":"utc","domain":[{"year":2020,"month":10,"date":19,"hours":20,"minutes":38,"utc":true},{"year":2022,"month":1,"date":7,"hours":19,"minutes":12,"utc":true}]}},
   "y":{"datum":56020,"type":"quantitative","scale":{"domain":[5062,72291],"nice":false,"zero":false}},
   "text":{"field":"lbl"}}},
 {"data":{"values":[{"p":55865.31,"lbl":"55865.31","cd":"03:01:31"}]},
  "mark":{"type":"text","align":"left","baseline":"middle","fontSize":7,"color":"#d1d4dc"},
  "encoding":{
   "x":{"datum":{"year":2021,"month":12,"date":21,"hours":18,"utc":true},"type":"temporal","scale":{"type":"utc","domain":[{"year":2020,"month":10,"date":19,"hours":20,"minutes":38,"utc":true},{"year":2022,"month":1,"date":7,"hours":19,"minutes":12,"utc":true}]}},
   "y":{"datum":54660,"type":"quantitative","scale":{"domain":[5062,72291],"nice":false,"zero":false}},
   "text":{"field":"cd"}}}
]}
]
}
